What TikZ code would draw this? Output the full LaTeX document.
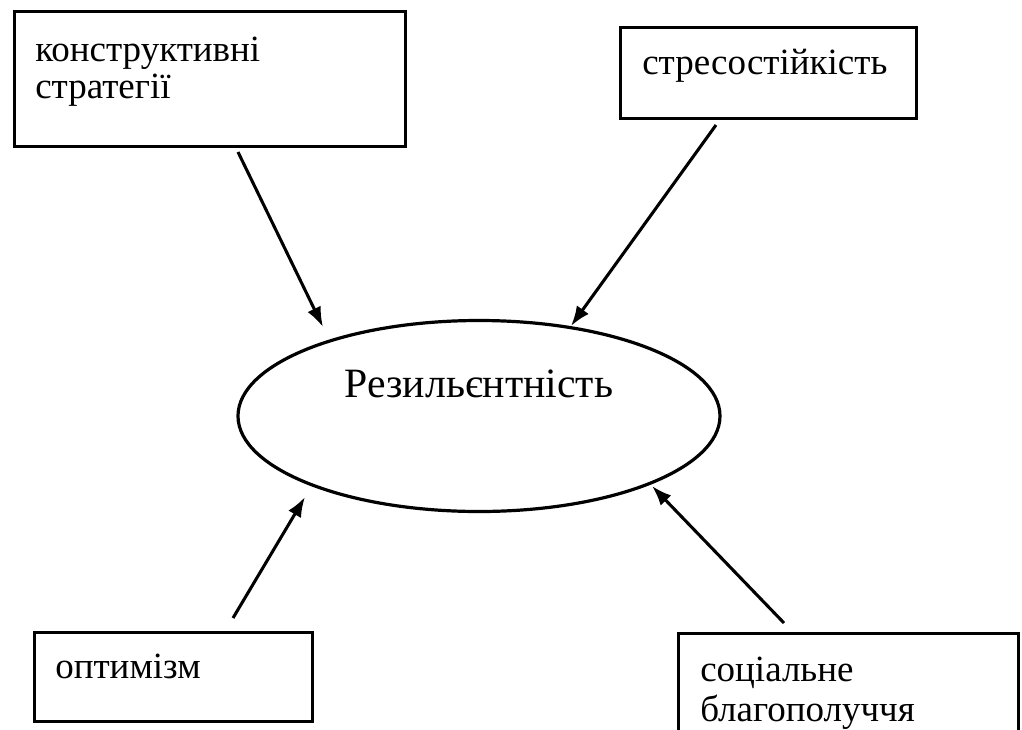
\documentclass[tikz,border=0pt]{standalone}
\usepackage{fontspec}
\setmainfont{Liberation Serif}
\newfontfamily\tnrfont{Liberation Serif}
\usetikzlibrary{arrows.meta,shapes.geometric}
\tikzset{
  box/.style={draw=black, line width=2.6pt, rectangle, inner sep=0pt, anchor=north west},
  lbl/.style={inner sep=0pt, anchor=base west, font=\tnrfont\fontsize{27.75}{32}\selectfont},
  ell/.style={draw=black, line width=2.4pt, ellipse, inner sep=0pt, minimum width=361.5pt, minimum height=143.25pt},
  elbl/.style={inner sep=0pt, anchor=base, font=\tnrfont\fontsize{31.3}{36}\selectfont},
  arr/.style={draw=black, line width=2.3pt, -{Latex[length=15pt,width=11pt]}}
}
\begin{document}
\begin{tikzpicture}[x=0.75pt, y=-0.75pt]
\useasboundingbox (0,0) rectangle (1022,729);
\clip (0,0) rectangle (1022,729);
\fill[white] (0,0) rectangle (1022,729);

% boxes
\node[box, minimum width=293.25pt, minimum height=101.25pt] (tl) at (13,10) {};
\node[box, minimum width=222pt, minimum height=68.25pt] (tr) at (619,26) {};
\node[box, minimum width=208.5pt, minimum height=66.75pt] (bl) at (33,631) {};
\node[box, minimum width=255pt, minimum height=97.5pt] (br) at (677,632) {};

% labels
\node[lbl] (tl1) at (35,61) {конструктивні};
\node[lbl] (tl2) at (35,98) {стратегії};
\node[lbl] (trt) at (642,74) {стресостійкість};
\node[lbl] (blt) at (55,678) {оптимізм};
\node[lbl] (br1) at (700,681) {соціальне};
\node[lbl] (br2) at (700,721) {благополуччя};

% ellipse
\node[ell] (res) at (479,416) {};
\node[elbl] (rest) at (479,397) {Резильєнтність};

% arrow ends
\coordinate (a1s) at (238,152);
\coordinate (a1e) at (323,327);
\coordinate (a2s) at (716,125);
\coordinate (a2e) at (571,326);
\coordinate (a3s) at (233,618);
\coordinate (a3e) at (305,497);
\coordinate (a4s) at (784,623);
\coordinate (a4e) at (652,486);

\draw[arr] (a1s) -- (a1e);
\draw[arr] (a2s) -- (a2e);
\draw[arr] (a3s) -- (a3e);
\draw[arr] (a4s) -- (a4e);
\end{tikzpicture}
\end{document}
